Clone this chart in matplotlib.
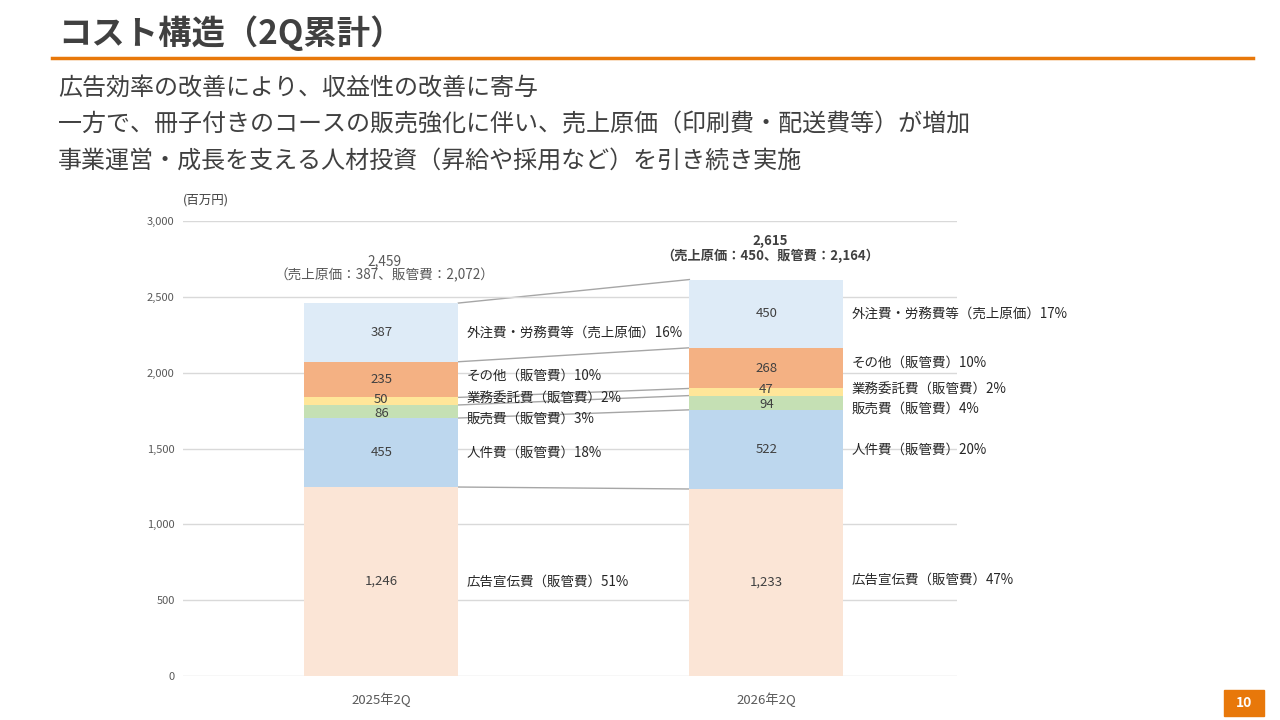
import numpy as np
import matplotlib
matplotlib.use("Agg")
from matplotlib import pyplot as plt
from matplotlib.patches import Rectangle

plt.rcParams['font.family'] = ['Noto Sans CJK JP', 'DejaVu Sans']

# --- data ---
periods = ['2025年2Q', '2026年2Q']
items = ['広告宣伝費（販管費）', '人件費（販管費）', '販売費（販管費）',
         '業務委託費（販管費）', 'その他（販管費）', '外注費・労務費等（売上原価）']
values = {
    '2025年2Q': [1246, 455, 86, 50, 235, 387],
    '2026年2Q': [1233, 522, 94, 47, 268, 450],
}
shares = {
    '2025年2Q': ['51%', '18%', '3%', '2%', '10%', '16%'],
    '2026年2Q': ['47%', '20%', '4%', '2%', '10%', '17%'],
}
totals = [2459, 2615]
cogs = [387, 450]
sga = [2072, 2164]
colors = ['#FBE5D6', '#BDD7EE', '#C5E0B4', '#FFE699', '#F4B183', '#DEEBF7']

# small vertical nudges (points) for labels so they do not overlap
nudge = {
    '2025年2Q': [0, 0, -5, 2, 3, 0],
    '2026年2Q': [2, 0, -4, 2, 4, 0],
}
val_nudge = [0, 0, -1.5, 1.5, 0, 0]

text_col = '#404040'
orange = '#E8780A'
bar_w = 0.4

fig = plt.figure(figsize=(12.8, 7.2), dpi=100)

# header
fig.text(58 / 1280, 1 - 33 / 720, 'コスト構造（2Q累計）', fontsize=24, fontweight='bold',
         color=text_col, va='center', ha='left')
fig.add_artist(plt.Line2D([52 / 1280, 1253 / 1280], [1 - 58 / 720, 1 - 58 / 720],
                          color=orange, lw=2.5))
body = ['広告効率の改善により、収益性の改善に寄与',
        '一方で、冊子付きのコースの販売強化に伴い、売上原価（印刷費・配送費等）が増加',
        '事業運営・成長を支える人材投資（昇給や採用など）を引き続き実施']
for i, line in enumerate(body):
    fig.text(58 / 1280, 1 - (88 + i * 36.5) / 720, line, fontsize=17.3, color=text_col,
             va='center', ha='left')

# page number
fig.add_artist(Rectangle((1224 / 1280, 1 - 716 / 720), 40 / 1280, 26 / 720,
                         transform=fig.transFigure, color=orange))
fig.text(1244 / 1280, 1 - 703 / 720, '10', fontsize=10, fontweight='bold', color='white',
         ha='center', va='center')

# chart
ax = fig.add_axes([183 / 1280, 1 - 676 / 720, 774 / 1280, 455 / 720])
x = np.arange(len(periods))
cums = []
for i, p in enumerate(periods):
    vals = np.array(values[p])
    bottoms = np.concatenate([[0], np.cumsum(vals)[:-1]])
    cums.append(np.cumsum(vals))
    ax.bar(np.full(len(vals), x[i]), vals, bottom=bottoms, width=bar_w, color=colors, zorder=2)
    for k, (v, b) in enumerate(zip(vals, bottoms)):
        mid = b + v / 2
        ax.annotate(f'{v:,}', (x[i], mid), xytext=(0, val_nudge[k]), textcoords='offset points',
                    ha='center', va='center', fontsize=9.5, color=text_col, zorder=3)
        ax.annotate(f'{items[k]}{shares[p][k]}', (x[i] + bar_w / 2, mid),
                    xytext=(6, nudge[p][k]), textcoords='offset points',
                    ha='left', va='center', fontsize=9.7, color='#262626', zorder=3)

# connector lines between bars
for a, b in zip(cums[0], cums[1]):
    ax.plot([x[0] + bar_w / 2, x[1] - bar_w / 2], [a, b], color='#A6A6A6', lw=1, zorder=1)

# total labels
ax.annotate(f'{totals[0]:,}\n（売上原価：{cogs[0]}、販管費：{sga[0]:,}）',
            (x[0], totals[0]), xytext=(2, 15), textcoords='offset points',
            ha='center', va='bottom', fontsize=9.8, color='#595959', linespacing=1.0)
ax.annotate(f'{totals[1]:,}\n（売上原価：{cogs[1]}、販管費：{sga[1]:,}）',
            (x[1], totals[1]), xytext=(3, 12), textcoords='offset points',
            ha='center', va='bottom', fontsize=9.5, color='#404040', fontweight='bold',
            linespacing=1.0)

ax.set_xlim(-0.515, 1.495)
ax.set_ylim(0, 3000)
ax.set_yticks(np.arange(0, 3001, 500))
ax.set_yticklabels([f'{t:,}' for t in range(0, 3001, 500)])
ax.set_xticks(x)
ax.set_xticklabels(periods)
ax.tick_params(axis='y', length=0, labelsize=8, labelcolor='#595959', pad=6)
ax.tick_params(axis='x', length=0, labelsize=9.5, labelcolor='#595959', pad=12)
ax.grid(axis='y', color='#D9D9D9', lw=1, zorder=0)
for s in ax.spines.values():
    s.set_visible(False)
ax.text(0.0, 1.045, '(百万円)', transform=ax.transAxes, fontsize=9, color='#404040',
        ha='left', va='center')

fig.savefig('out.png', dpi=100)
